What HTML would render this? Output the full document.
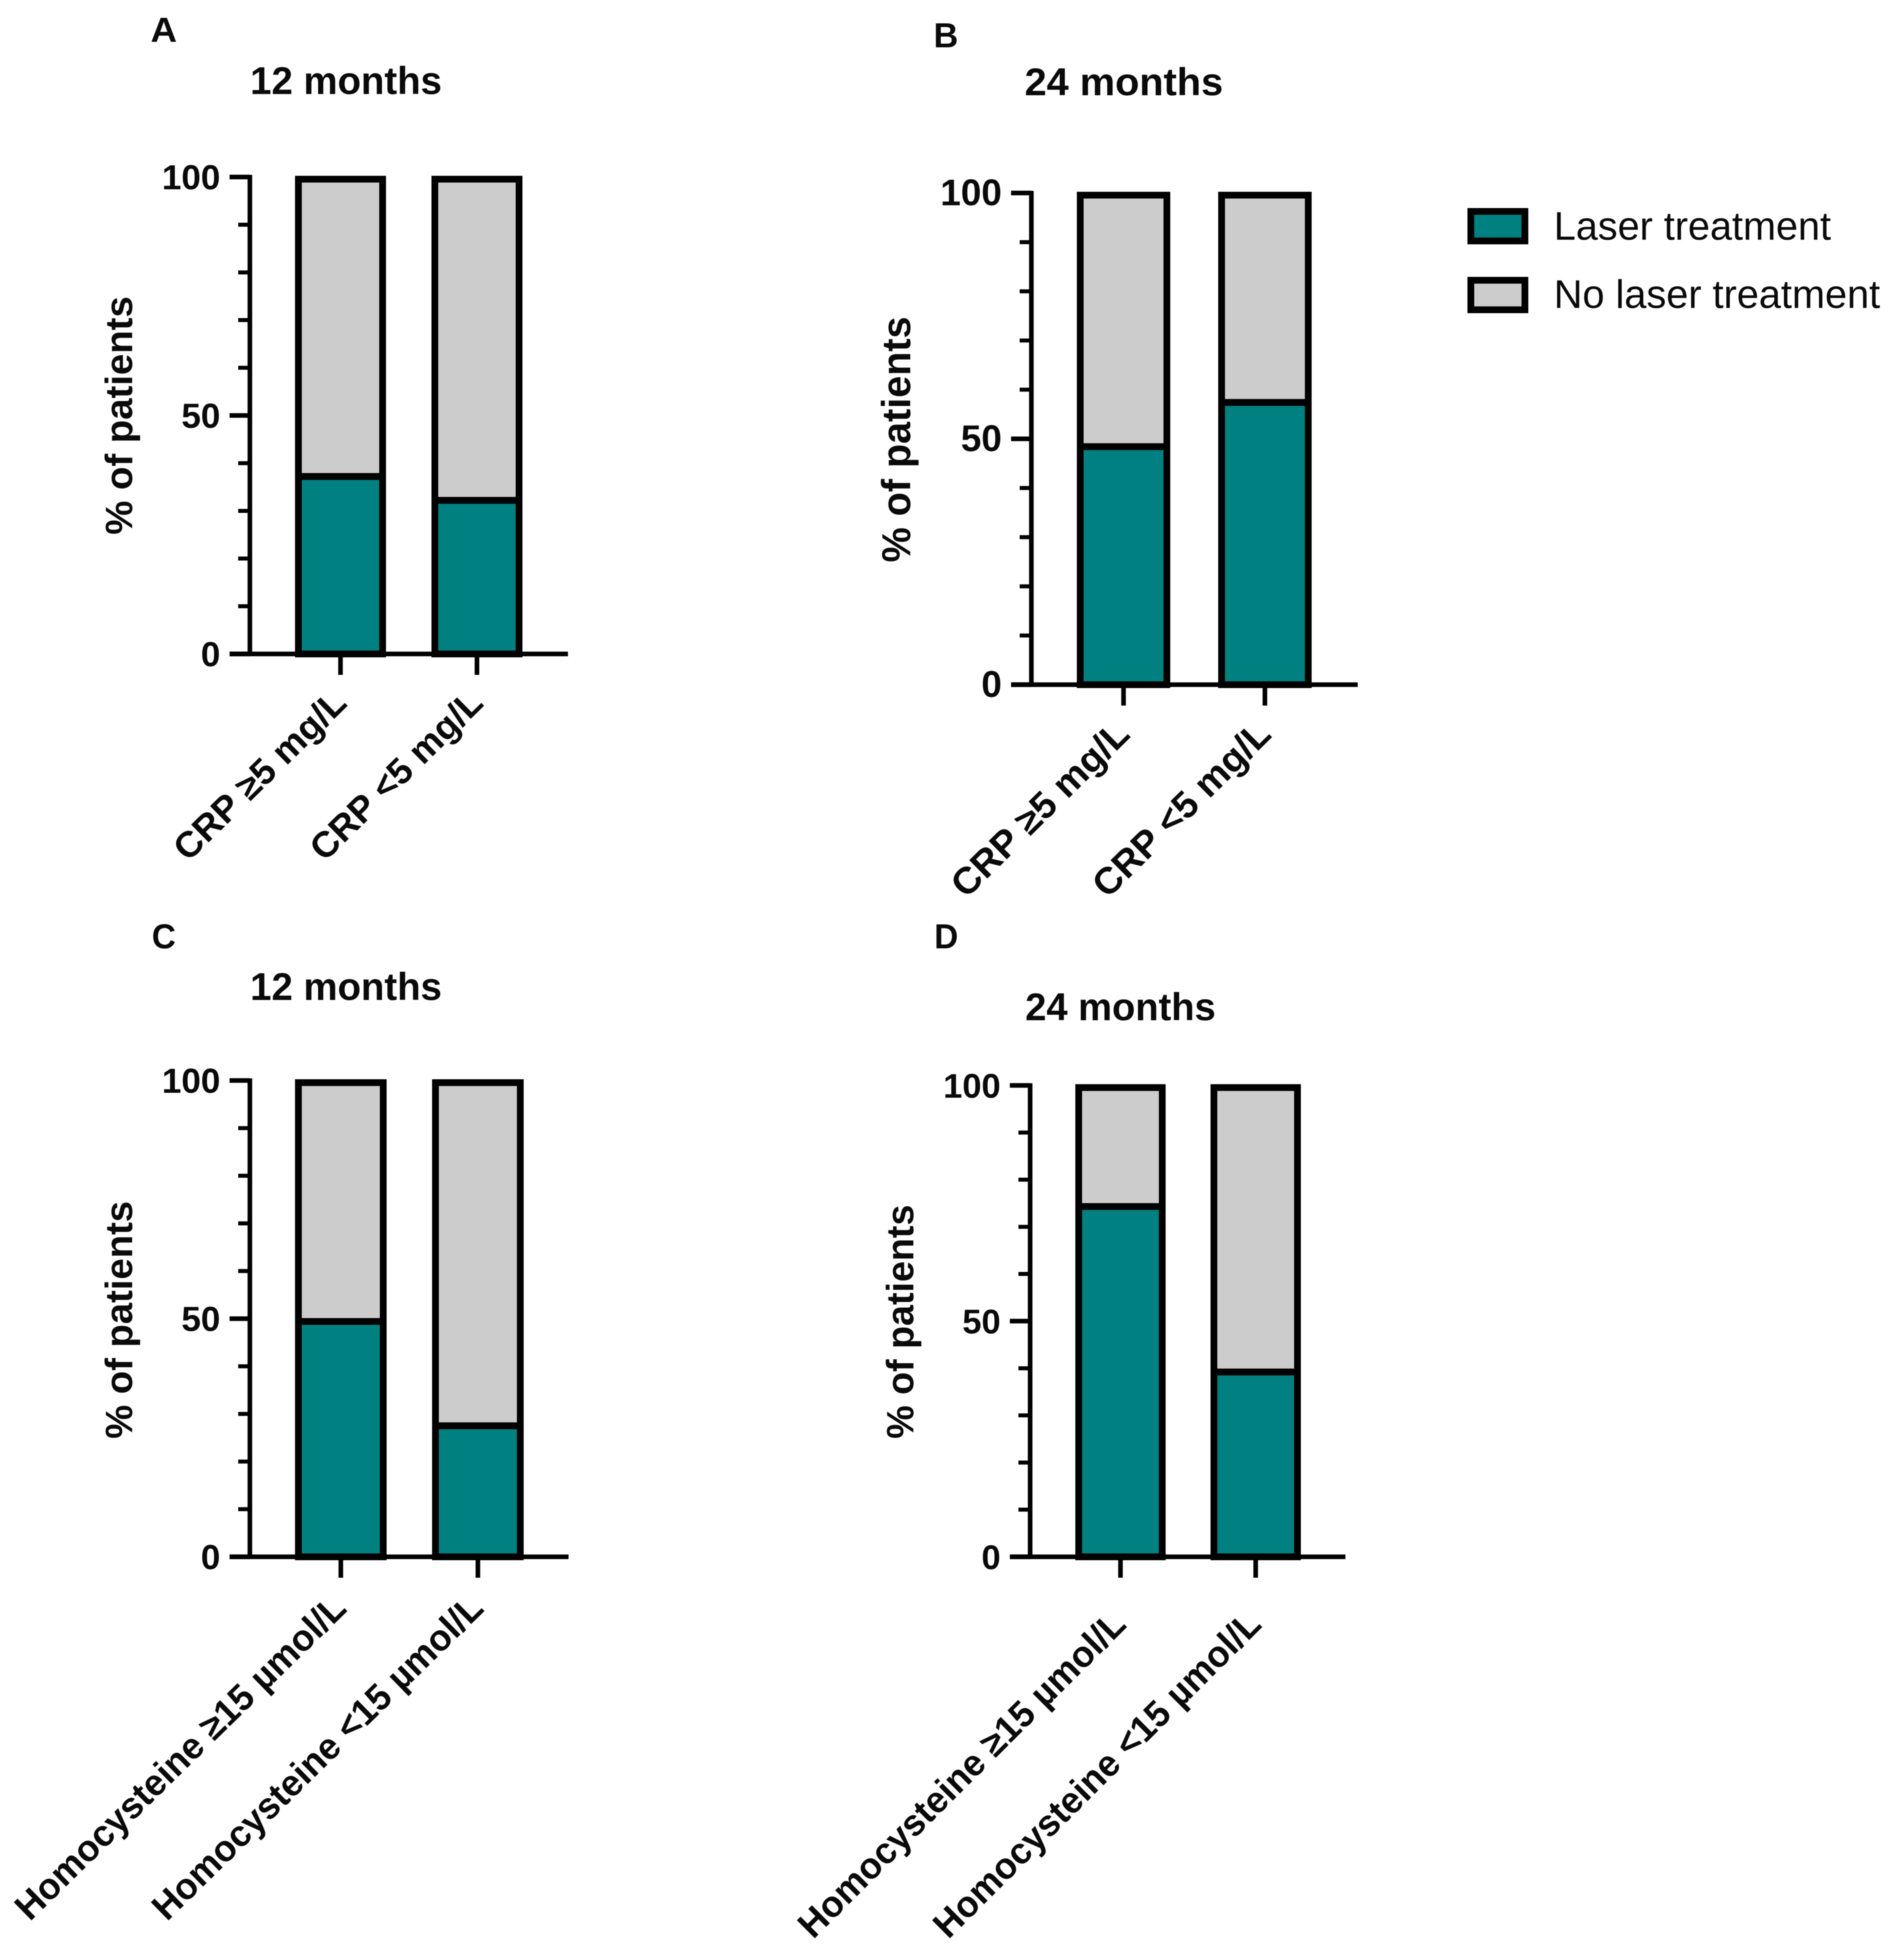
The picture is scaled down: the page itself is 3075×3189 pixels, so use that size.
<!DOCTYPE html>
<html lang="en">
<head>
<meta charset="utf-8">
<title>Laser treatment by CRP and homocysteine</title>
<style>
html,body{margin:0;padding:0;background:#fff;width:3075px;height:3189px;overflow:hidden}
svg{display:block;filter:blur(0.8px)}
text{font-family:"Liberation Sans",Arial,sans-serif;fill:#0a0a0a}
.b{font-weight:700}
</style>
</head>
<body>
<svg id="figure" xmlns="http://www.w3.org/2000/svg" width="3075" height="3189" viewBox="0 0 3075 3189">
  <rect width="3075" height="3189" fill="#fff"/>
  <g id="legend">
    <rect x="2393" y="344" width="88" height="48" fill="#008080" stroke="#000" stroke-width="11"/>
    <text x="2528" y="390" font-size="65" textLength="451" lengthAdjust="spacingAndGlyphs">Laser treatment</text>
    <rect x="2393" y="456" width="88" height="48" fill="#cccccc" stroke="#000" stroke-width="11"/>
    <text x="2528" y="501" font-size="65" textLength="531" lengthAdjust="spacingAndGlyphs">No laser treatment</text>
  </g>
</svg>
<script>
var yTickValues = [0, 50, 100];
var yTickLabels = ['0', '50', '100'];
var yMinorTicks = [10, 20, 30, 40, 60, 70, 80, 90];

var panelACategories = ['CRP ≥5 mg/L', 'CRP <5 mg/L'];
var panelALaser = [37.2, 32.2];
var panelANoLaser = [62.8, 67.8];

var panelBCategories = ['CRP ≥5 mg/L', 'CRP <5 mg/L'];
var panelBLaser = [48.4, 57.4];
var panelBNoLaser = [51.6, 42.6];

var panelCCategories = ['Homocysteine ≥15 µmol/L', 'Homocysteine <15 µmol/L'];
var panelCLaser = [49.4, 27.5];
var panelCNoLaser = [50.6, 72.5];

var panelDCategories = ['Homocysteine ≥15 µmol/L', 'Homocysteine <15 µmol/L'];
var panelDLaser = [74.3, 39.2];
var panelDNoLaser = [25.7, 60.8];

var panels = [
  {id:'a', letter:'A', title:'12 months', cats:panelACategories, laser:panelALaser, none:panelANoLaser,
   axisX:406.5, axisEnd:924, y100:288, y0:1064, first:554, step:222, barW:148,
   letterX:245, letterY:68, letterW:43, titleX:407, titleY:153, titleW:312, tickFont:57,
   yTitleX:215, yTitleBottom:870, yTitleLen:388, yTitleFont:62,
   labelDx:13, labelY:1147, labelLen:366, labelAngle:44.5, labelFont:59},
  {id:'b', letter:'B', title:'24 months', cats:panelBCategories, laser:panelBLaser, none:panelBNoLaser,
   axisX:1678, axisEnd:2209, y100:314, y0:1114, first:1828, step:230, barW:152,
   letterX:1519, letterY:77, letterW:40, titleX:1667, titleY:155, titleW:323, tickFont:60,
   yTitleX:1481, yTitleBottom:915, yTitleLen:400, yTitleFont:66,
   labelDx:13, labelY:1198, labelLen:378, labelAngle:44.6, labelFont:61},
  {id:'c', letter:'C', title:'12 months', cats:panelCCategories, laser:panelCLaser, none:panelCNoLaser,
   axisX:406.5, axisEnd:925, y100:1758, y0:2533, first:554.5, step:223, barW:149,
   letterX:247, letterY:1543, letterW:39, titleX:407, titleY:1627, titleW:312, tickFont:57,
   yTitleX:215, yTitleBottom:2341, yTitleLen:387, yTitleFont:62,
   labelDx:12, labelY:2620, labelLen:725, labelAngle:44.4, labelFont:60},
  {id:'d', letter:'D', title:'24 months', cats:panelDCategories, laser:panelDLaser, none:panelDNoLaser,
   axisX:1676, axisEnd:2189, y100:1766, y0:2533, first:1823, step:220, barW:147,
   letterX:1520, letterY:1543, letterW:39, titleX:1668, titleY:1660, titleW:310, tickFont:56,
   yTitleX:1486, yTitleBottom:2341, yTitleLen:381, yTitleFont:62,
   labelDx:12, labelY:2646, labelLen:723, labelAngle:44.9, labelFont:60}
];

var NS = 'http://www.w3.org/2000/svg';
var root = document.getElementById('figure');

function node(parent, tag, attrs, content) {
  var el = document.createElementNS(NS, tag);
  for (var k in attrs) el.setAttribute(k, attrs[k]);
  if (content !== undefined) el.textContent = content;
  parent.appendChild(el);
  return el;
}

function drawPanel(p) {
  var g = node(root, 'g', {});
  
  

  function yScale(v) { return p.y0 - (v / 100) * (p.y0 - p.y100); }
  function xScale(i) { return p.first + i * p.step; }

  var letter = node(g, 'text', {'class':'b', x:p.letterX, y:p.letterY, 'font-size':57, fill:'#222', textLength:p.letterW, lengthAdjust:'spacingAndGlyphs'}, p.letter);
  
  

  var title = node(g, 'text', {'class':'b', x:p.titleX, y:p.titleY, 'font-size':63, textLength:p.titleW, lengthAdjust:'spacingAndGlyphs'}, p.title);
  
  

  var yTitle = node(g, 'text', {'class':'b', transform:'translate(' + p.yTitleX + ',' + p.yTitleBottom + ') rotate(-90)', 'font-size':p.yTitleFont, textLength:p.yTitleLen, lengthAdjust:'spacingAndGlyphs'}, '% of patients');
  
  

  p.cats.forEach(function (cat, i) {
    var cx = xScale(i);
    var left = cx - p.barW / 2 + 5.5;
    var w = p.barW - 11;
    var top = yScale(p.laser[i]);
    var noTop = yScale(p.laser[i] + p.none[i]) + 3.5;
    var none = node(g, 'rect', {x:left, y:noTop, width:w, height:top - noTop, fill:'#cccccc', stroke:'#000', 'stroke-width':11});
    
    
    var las = node(g, 'rect', {x:left, y:top, width:w, height:yScale(0) - top, fill:'#008080', stroke:'#000', 'stroke-width':11});
    
    
    var tick = node(g, 'line', {x1:cx, x2:cx, y1:yScale(0), y2:yScale(0) + 34, stroke:'#000', 'stroke-width':7.5});
    
    
    var lab = node(g, 'text', {'class':'b', transform:'translate(' + (cx + p.labelDx) + ',' + p.labelY + ') rotate(' + (-p.labelAngle) + ')', 'text-anchor':'end', 'font-size':p.labelFont, textLength:p.labelLen, lengthAdjust:'spacingAndGlyphs'}, cat);
    
    
  });

  var yAxis = node(g, 'line', {x1:p.axisX, x2:p.axisX, y1:yScale(100) - 3.5, y2:yScale(0) + 3.5, stroke:'#000', 'stroke-width':7.5});
  
  
  var xAxis = node(g, 'line', {x1:p.axisX - 33, x2:p.axisEnd, y1:yScale(0), y2:yScale(0), stroke:'#000', 'stroke-width':7.5});
  
  

  yMinorTicks.forEach(function (v) {
    var t = node(g, 'line', {x1:p.axisX - 19, x2:p.axisX, y1:yScale(v), y2:yScale(v), stroke:'#000', 'stroke-width':6.5});
    
    
  });
  yTickValues.forEach(function (v, i) {
    var t = node(g, 'line', {x1:p.axisX - 33, x2:p.axisX, y1:yScale(v), y2:yScale(v), stroke:'#000', 'stroke-width':7.5});
    
    
    var l = node(g, 'text', {'class':'b', x:p.axisX - 48, y:yScale(v) + 20, 'text-anchor':'end', 'font-size':p.tickFont}, yTickLabels[i]);
    
    
  });
}

panels.forEach(drawPanel);
</script>
</body>
</html>
